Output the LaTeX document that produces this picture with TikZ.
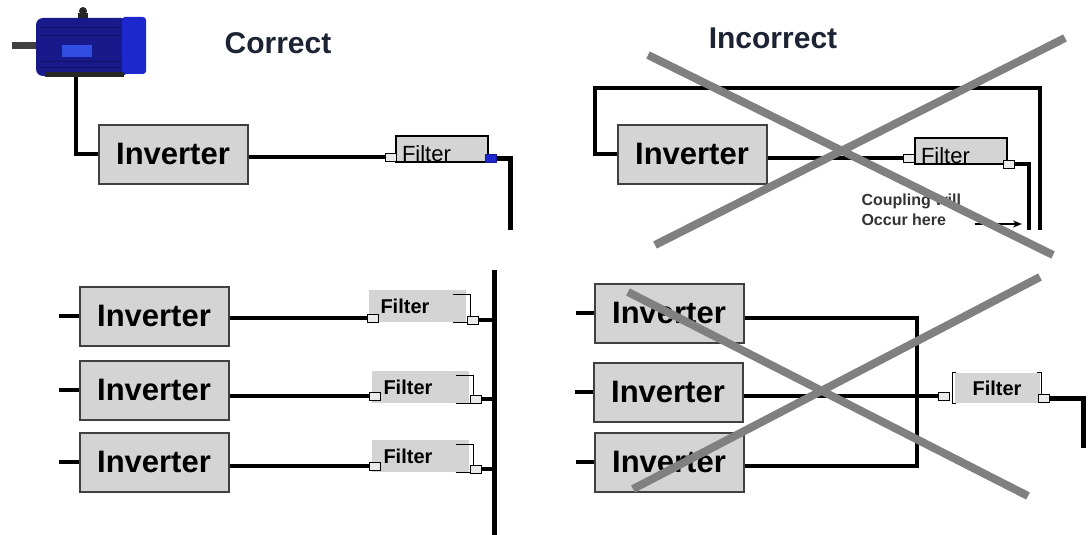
\documentclass[tikz,border=0pt]{standalone}
\usepackage{fontspec}
\setmainfont{Liberation Sans}
\usetikzlibrary{arrows.meta}
\definecolor{boxgray}{RGB}{212,212,212}
\definecolor{crossgray}{RGB}{128,128,128}
\definecolor{motorblue}{RGB}{24,26,140}
\definecolor{capblue}{RGB}{28,40,205}
\definecolor{panelblue}{RGB}{48,78,225}
\definecolor{headtext}{RGB}{28,36,52}

\begin{document}
\begin{tikzpicture}[x=1pt,y=-1pt,
    inv/.style={draw=black!75,line width=2pt,fill=boxgray,minimum width=149pt,minimum height=59pt,inner sep=0pt,font=\fontsize{31}{33}\selectfont\bfseries},
    filt/.style={draw,line width=1.2pt,fill=boxgray,minimum width=92pt,minimum height=26pt,inner xsep=6pt,inner ysep=0pt,text width=80pt,align=left,text height=24pt,text depth=0pt,font=\fontsize{22}{24}\selectfont},
    filtb/.style={fill=boxgray,minimum width=97pt,minimum height=32pt,inner xsep=12pt,inner ysep=0pt,text width=73pt,align=left,font=\fontsize{20}{22}\selectfont\bfseries},
    port/.style={draw,line width=1pt,fill=boxgray!50,minimum width=11pt,minimum height=8pt,inner sep=0pt},
    head/.style={text=headtext,font=\fontsize{30}{32}\selectfont\bfseries},
    wire/.style={line width=3.6pt},
    drop/.style={line width=5pt},
    brk/.style={line width=1.2pt},
    cross/.style={crossgray,line width=8pt}]
  \useasboundingbox (0,0) rectangle (1088,535);

  % motor
  \fill[black!75] (12,42) rectangle (38,49);
  \fill[black!85] (78,13) rectangle (88,20);
  \fill[black!85] (83,11) circle (4);
  \fill[motorblue,rounded corners=7pt] (36,18) rectangle (128,76);
  \foreach \y in {28,36,62,68}
    \draw[motorblue!70!black,line width=1pt] (40,\y) -- (122,\y);
  \fill[capblue,rounded corners=3pt] (122,17) rectangle (146,74);
  \fill[panelblue] (62,45) rectangle (92,57);
  \fill[black!85] (45,72) rectangle (124,77);
  \coordinate (mot) at (76,77);

  \node (hc) [head] at (278,43) {Correct};
  \node (hi) [head] at (773,38) {Incorrect};

  % correct, one inverter
  \node (i0) [inv] at (173,154) {Inverter};
  \node (f0) [filt] at (442,149) {Filter};
  \node (p0a) [port] at (391,157) {};
  \node (p0b) [port,fill=capblue,draw=motorblue] at (491,158) {};
  \coordinate (b0) at (510,230);
  \draw[wire] (mot) |- (i0.west);
  \draw[wire] (p0a.west) -- (p0a.west -| i0.east);
  \draw[drop] (p0b.east) -| (b0);

  % incorrect, one inverter
  \node (i1) [inv] at (692,154) {Inverter};
  \node (f1) [filt] at (961,151) {Filter};
  \node (p1a) [port] at (909,158) {};
  \node (p1b) [port] at (1009,164) {};
  \coordinate (l1) at (1040,230);
  \coordinate (l2) at (1029,230);
  \draw[wire] (p1a.west) -- (p1a.west -| i1.east);
  \draw[wire] (i1.west) -| (595,88) -| (l1);
  \draw[wire] (p1b.east) -| (l2);
  \node (cpl) [anchor=west,align=left,text=black!80,font=\fontsize{16}{20}\selectfont\bfseries] at (858,210) {Coupling will\\Occur here};
  \coordinate (cp) at (1022,224);
  \draw[line width=2pt,-{Stealth[length=9pt,width=7pt]}] ([xshift=10pt]cpl.east |- cp) -- (cp);
  \draw[cross] (648,55) -- (1053,255);
  \draw[cross] (1065,38) -- (655,245);

  % correct, three inverters on a common bus
  \node (i2) [inv] at (154,316) {Inverter};
  \node (i3) [inv] at (154,390) {Inverter};
  \node (i4) [inv] at (154,462) {Inverter};
  \node (f2) [filtb] at (417,306) {Filter};
  \node (f3) [filtb] at (420,387) {Filter};
  \node (f4) [filtb] at (420,456) {Filter};
  \node (p2a) [port] at (373,318) {};
  \node (p3a) [port] at (375,396) {};
  \node (p4a) [port] at (375,466) {};
  \node (p2b) [port] at (473,320) {};
  \node (p3b) [port] at (476,399) {};
  \node (p4b) [port] at (476,469) {};
  \coordinate (bt) at (494,270);
  \coordinate (bb) at (494,535);
  \draw[drop] (bt) -- (bb);
  \foreach \i/\f/\p/\q in {i2/f2/p2a/p2b,i3/f3/p3a/p3b,i4/f4/p4a/p4b} {
    \draw[wire] (\i.west) -- ++(-20,0);
    \draw[wire] (\p.west) -- (\p.west -| \i.east);
    \draw[wire] (\q.east) -- (\q.east -| bt);
    \draw[brk] ([shift={(-13pt,-5pt)}]\f.north east) -- ++(18,0) coordinate (bk) -- (bk |- \q.north);
    \draw[brk] ([xshift=-13pt]\f.south east) -- (\q.west |- \f.south);
  }

  % incorrect, three inverters into one filter
  \node (i5) [inv] at (669,313) {Inverter};
  \node (i6) [inv] at (668,392) {Inverter};
  \node (i7) [inv] at (669,462) {Inverter};
  \node (f8) [filtb,minimum width=85pt,minimum height=30pt,text width=,inner xsep=0pt,align=center] at (997,388) {Filter};
  \node (p8a) [port] at (944,396) {};
  \node (p8b) [port] at (1044,398) {};
  \coordinate (jt) at (917,318);
  \coordinate (jb) at (917,466);
  \coordinate (o8) at (1083,448);
  \foreach \i in {i5,i6,i7}
    \draw[wire] (\i.west) -- ++(-18,0);
  \draw[wire] (i5.east |- jt) -- (jt) -- (jb) -- (jb -| i7.east);
  \draw[wire] (p8a.west) -- (p8a.west -| i6.east);
  \draw[drop] (p8b.east) -| (o8);
  \draw[brk] ([xshift=2pt]f8.north west) -- ++(-4,0) -- ([xshift=-2pt]f8.south west) -- ++(4,0);
  \draw[brk] ([xshift=-3pt]f8.north east) -- ++(5,0) coordinate (bk) -- (bk |- p8b.north);
  \draw[cross] (628,292) -- (1028,496);
  \draw[cross] (1040,277) -- (633,489);
\end{tikzpicture}
\end{document}
